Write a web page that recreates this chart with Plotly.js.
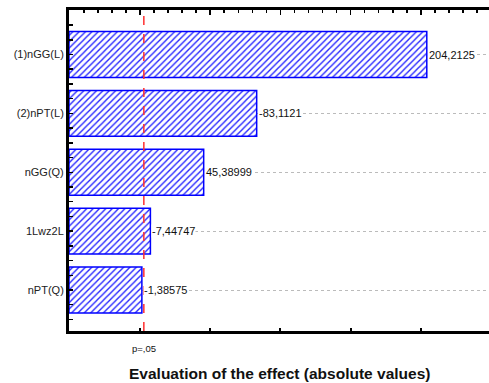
<!DOCTYPE html>
<html><head><meta charset="utf-8">
<script src="https://cdn.plot.ly/plotly-3.0.1.min.js"></script>
<style>html,body{margin:0;padding:0;background:#fff}#chart{width:489px;height:383px}</style>
</head><body><div id="chart"></div>
<script>
// Data
var effectNames = ["(1)nGG(L)", "(2)nPT(L)", "nGG(Q)", "1Lwz2L", "nPT(Q)"];
var effectValues = [204.2125, -83.1121, 45.38999, -7.44747, -1.38575];
var pCritical = 2.776;
var pLabel = "p=,05";
var xTitle = "Evaluation of the effect (absolute values)";

var xRange = [-50.5, 248.5];
var idx = effectNames.map(function(_, i){ return i; });
var absVals = effectValues.map(function(v){ return Math.abs(v); });
var labels = effectValues.map(function(v){ return String(v).replace('.', ','); });

var trace = {
  type: 'bar', orientation: 'h',
  y: idx, x: absVals.map(function(v){ return v - xRange[0]; }), base: xRange[0],
  width: 0.78,
  marker: {
    color: '#ffffff',
    line: {color: '#0000ff', width: 1.5},
    pattern: {shape: '/', fgcolor: '#2222ff', bgcolor: '#ffffff', size: 4.5, solidity: 0.3, fillmode: 'replace'}
  },
  hoverinfo: 'skip'
};

var annotations = effectValues.map(function(v, i){
  return {x: absVals[i], y: i, xref: 'x', yref: 'y', text: labels[i], showarrow: false,
    xanchor: 'left', yanchor: 'middle', xshift: 1, bgcolor: '#ffffff', borderpad: 0,
    font: {family: 'Arial, Liberation Sans', size: 11, color: '#111'}};
});
annotations.push({x: pCritical, y: 0, xref: 'x', yref: 'paper', yshift: -17, text: pLabel,
  showarrow: false, xanchor: 'center', yanchor: 'middle',
  font: {family: 'Arial, Liberation Sans', size: 9.5, color: '#111'}});
annotations.push({x: 0.5, y: 0, xref: 'paper', yref: 'paper', yshift: -42, text: xTitle,
  showarrow: false, xanchor: 'center', yanchor: 'middle',
  font: {family: 'Arial, Liberation Sans', size: 15.5, color: '#111', weight: 'bold'}});

var layout = {
  width: 489, height: 383,
  margin: {l: 69, r: 0, t: 10, b: 52},
  paper_bgcolor: '#ffffff', plot_bgcolor: '#ffffff',
  showlegend: false,
  bargap: 0,
  xaxis: {
    range: xRange, showgrid: false, zeroline: false,
    showline: true, linecolor: '#000', linewidth: 3,
    ticks: 'inside', ticklen: 3, tickcolor: '#000', tickwidth: 2,
    tick0: 0, dtick: 50, showticklabels: false
  },
  xaxis2: {
    matches: 'x', overlaying: 'x', side: 'top', anchor: 'y',
    range: xRange, showgrid: false, zeroline: false,
    showline: true, linecolor: '#000', linewidth: 3,
    ticks: 'inside', ticklen: 5, tickcolor: '#000', tickwidth: 1.5,
    tick0: 0, dtick: 50, showticklabels: false,
    minor: {ticks: 'inside', ticklen: 3, dtick: 10, tick0: 0, tickcolor: '#000', tickwidth: 1.5}
  },
  yaxis: {
    range: [4.696, -0.756], zeroline: false,
    showline: true, linecolor: '#000', linewidth: 3,
    tickmode: 'array', tickvals: idx, ticktext: effectNames,
    ticks: 'inside', ticklen: 4, tickcolor: '#000', tickwidth: 1.5,
    minor: {ticks: 'inside', ticklen: 4, dtick: 0.25, tick0: 0, tickcolor: '#000', tickwidth: 1.5},
    showgrid: true, gridcolor: '#bbbbbb', griddash: 'dot', gridwidth: 1,
    tickfont: {family: 'Arial, Liberation Sans', size: 11, color: '#222'}
  },
  shapes: [{type: 'line', xref: 'x', yref: 'paper', x0: pCritical, x1: pCritical, y0: 0, y1: 1,
    line: {color: '#ff3030', width: 1.5, dash: 'dash'}, layer: 'above'}],
  annotations: annotations
};

var dummy = {type: 'scatter', x: [], y: [], xaxis: 'x2', yaxis: 'y', hoverinfo: 'skip'};
Plotly.newPlot('chart', [trace, dummy], layout, {staticPlot: true});
</script></body></html>
